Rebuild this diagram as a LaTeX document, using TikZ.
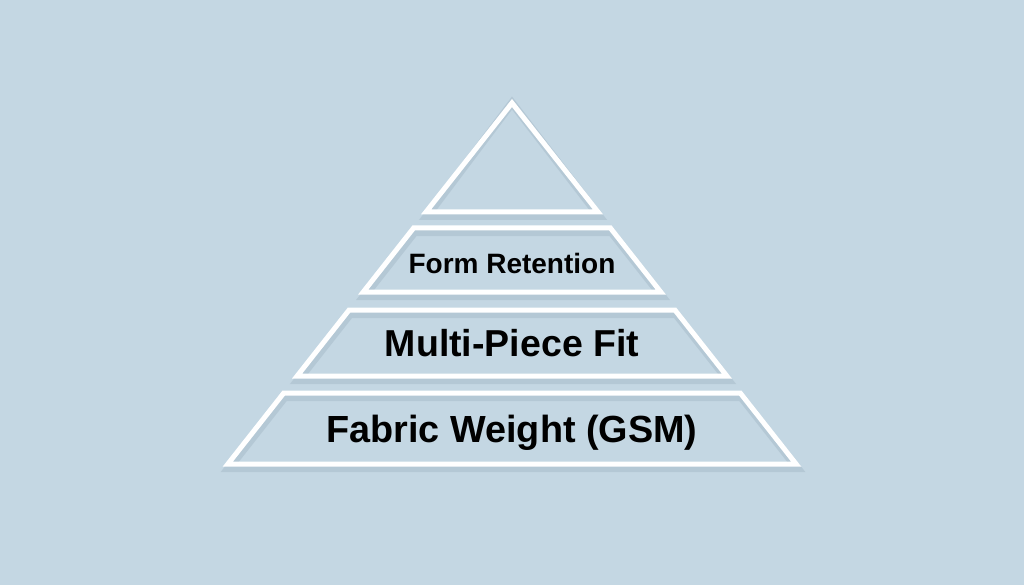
\documentclass[tikz,border=0pt]{standalone}
\usepackage{fontspec}
\setmainfont{Liberation Sans}
\usetikzlibrary{calc}
\definecolor{bgblue}{HTML}{C4D7E3}
\definecolor{tiershade}{HTML}{6F8798}

\begin{document}
\begin{tikzpicture}[x=1pt, y=-1pt,
    tier/.style={draw=white, line width=5pt, line join=miter},
    tiershadow/.style={draw=tiershade, opacity=0.18, line width=8pt, shift={(1,4)}},
    tierlabel/.style={font=\bfseries, text=black, anchor=base, inner sep=0pt}]
  \fill[bgblue] (0,0) rectangle (1024,585);
  \useasboundingbox (0,0) rectangle (1024,585);

  % apex triangle
  \coordinate (apex) at (512,103);
  \foreach \sty in {tiershadow, tier}
    \draw[\sty] (apex) -- (598,212) -- (426,212) -- cycle;

  % lower tiers, sides follow the apex slope
  \foreach \ytop/\ybot in {228/292, 310/376, 393/464} {
    \pgfmathsetmacro\wtop{0.787*(\ytop-103)}
    \pgfmathsetmacro\wbot{0.787*(\ybot-103)}
    \foreach \sty in {tiershadow, tier}
      \draw[\sty] ({512-\wtop},\ytop) -- ({512+\wtop},\ytop)
        -- ({512+\wbot},\ybot) -- ({512-\wbot},\ybot) -- cycle;
  }

  % labels
  \node[tierlabel, font=\bfseries\fontsize{28}{32}\selectfont] (form) at (512,273) {Form Retention};
  \node[tierlabel, font=\bfseries\fontsize{37.5}{42}\selectfont] (multi) at (512,356) {Multi-Piece Fit};
  \node[tierlabel, font=\bfseries\fontsize{37.8}{42}\selectfont] (fabric) at (512,442) {Fabric Weight (GSM)};
\end{tikzpicture}
\end{document}
